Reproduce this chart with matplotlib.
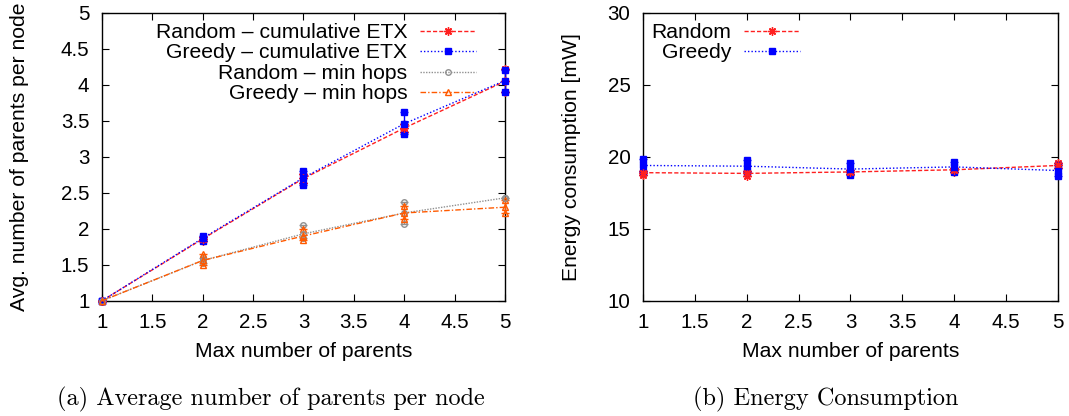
import matplotlib
matplotlib.use("Agg")
from matplotlib import pyplot as plt
from matplotlib.lines import Line2D
import numpy as np

# max number of parents (x axis)
max_parents = [1, 2, 3, 4, 5]

# (a) average number of parents per node: mean, low, high
rnd_etx = [1.0, 1.86, 2.70, 3.40, 4.05]
rnd_etx_lo = [1.0, 1.83, 2.64, 3.35, 3.90]
rnd_etx_hi = [1.0, 1.89, 2.76, 3.45, 4.22]

gr_etx = [1.0, 1.87, 2.71, 3.46, 4.06]
gr_etx_lo = [1.0, 1.83, 2.61, 3.32, 3.90]
gr_etx_hi = [1.0, 1.90, 2.81, 3.62, 4.20]

rnd_hops = [1.0, 1.56, 1.93, 2.22, 2.43]
rnd_hops_lo = [1.0, 1.53, 1.87, 2.07, 2.43]
rnd_hops_hi = [1.0, 1.59, 2.05, 2.37, 2.43]

gr_hops = [1.0, 1.56, 1.90, 2.22, 2.30]
gr_hops_lo = [1.0, 1.50, 1.85, 2.13, 2.22]
gr_hops_hi = [1.0, 1.65, 2.00, 2.32, 2.40]

# (b) energy consumption [mW]
rnd_energy = [18.9, 18.85, 18.95, 19.1, 19.4]
rnd_energy_err = [0.15, 0.2, 0.15, 0.15, 0.2]
gr_energy = [19.4, 19.35, 19.15, 19.3, 19.05]
gr_energy_err = [0.45, 0.4, 0.4, 0.35, 0.4]

xticks = [1, 1.5, 2, 2.5, 3, 3.5, 4, 4.5, 5]
xtick_labels = ['1', '1.5', '2', '2.5', '3', '3.5', '4', '4.5', '5']

FS = 15.2
plt.rcParams['font.family'] = ['Liberation Sans', 'DejaVu Sans']
plt.rcParams['font.size'] = FS

fig = plt.figure(figsize=(10.69, 4.16), dpi=100)
ax1 = fig.add_axes([0.0954, 0.277, 0.377, 0.692])
ax2 = fig.add_axes([0.6015, 0.277, 0.388, 0.692])

STAR = (8, 2, 0)


def series(ax, y, lo, hi, color, ls, marker, label, ms=5, mfc=None):
    x = np.array(max_parents)
    y = np.array(y)
    lo = np.array(lo)
    hi = np.array(hi)
    mfc = color if mfc is None else mfc
    ax.errorbar(x, y, yerr=[y - lo, hi - y], color=color, ls=ls, lw=1,
                marker=marker, ms=ms, mfc=mfc, mec=color, capsize=3,
                elinewidth=1, clip_on=False, zorder=3)
    ax.plot(np.concatenate([x, x]), np.concatenate([lo, hi]), ls='none',
            marker=marker, ms=ms, mfc=mfc, mec=color, clip_on=False, zorder=3)
    # legend sample without error bars
    return Line2D([], [], color=color, ls=ls, lw=1, marker=marker, ms=ms,
                  mfc=mfc, mec=color, markevery=[1], label=label)


h1 = series(ax1, rnd_etx, rnd_etx_lo, rnd_etx_hi, '#ff2020', (0, (3, 1.5)), STAR,
            'Random – cumulative ETX', ms=6)
h2 = series(ax1, gr_etx, gr_etx_lo, gr_etx_hi, '#0000ff', (0, (1, 1.5)), 's',
            'Greedy – cumulative ETX')
h3 = series(ax1, rnd_hops, rnd_hops_lo, rnd_hops_hi, '#909090', (0, (1, 1)), 'o',
            'Random – min hops', ms=4, mfc='none')
h4 = series(ax1, gr_hops, gr_hops_lo, gr_hops_hi, '#ff5a00', (0, (4, 1.5, 1, 1.5)), '^',
            'Greedy – min hops', ms=5, mfc='none')

ax1.set_xlim(1, 5)
ax1.set_ylim(1, 5)
ax1.set_xticks(xticks)
ax1.set_xticklabels(xtick_labels)
ax1.set_yticks(xticks)
ax1.set_yticklabels(xtick_labels)
ax1.set_xlabel('Max number of parents', labelpad=7)
ax1.set_ylabel('Avg. number of parents per node', labelpad=23)
ax1.legend(handles=[h1, h2, h3, h4], loc='upper right',
           bbox_to_anchor=(0.928, 0.965), frameon=False, markerfirst=False,
           handlelength=2.65, labelspacing=0.07, handletextpad=0.6,
           borderaxespad=0, borderpad=0)

g1 = series(ax2, rnd_energy, np.array(rnd_energy) - rnd_energy_err,
            np.array(rnd_energy) + rnd_energy_err, '#ff2020', (0, (3, 1.5)), STAR,
            'Random', ms=6)
g2 = series(ax2, gr_energy, np.array(gr_energy) - gr_energy_err,
            np.array(gr_energy) + gr_energy_err, '#0000ff', (0, (1, 1.5)), 's',
            'Greedy')

ax2.set_xlim(1, 5)
ax2.set_ylim(10, 30)
ax2.set_xticks(xticks)
ax2.set_xticklabels(xtick_labels)
ax2.set_yticks([10, 15, 20, 25, 30])
ax2.set_xlabel('Max number of parents', labelpad=7)
ax2.set_ylabel('Energy consumption [mW]', labelpad=19.5)
ax2.legend(handles=[g1, g2], loc='upper right', bbox_to_anchor=(0.378, 0.965),
           frameon=False, markerfirst=False, handlelength=2.65,
           labelspacing=0.07, handletextpad=0.6, borderaxespad=0, borderpad=0)

for ax in (ax1, ax2):
    ax.tick_params(direction='in', top=True, right=True, length=5, width=0.8,
                   labelsize=14.8, pad=9)
    for s in ax.spines.values():
        s.set_linewidth(1)

fig.text(0.2535, 0.039, '(a) Average number of parents per node', ha='center',
         va='center', fontsize=17.5, family='cmr10')
fig.text(0.772, 0.039, '(b) Energy Consumption', ha='center', va='center',
         fontsize=17.5, family='cmr10')

fig.savefig('out.png', dpi=100)
